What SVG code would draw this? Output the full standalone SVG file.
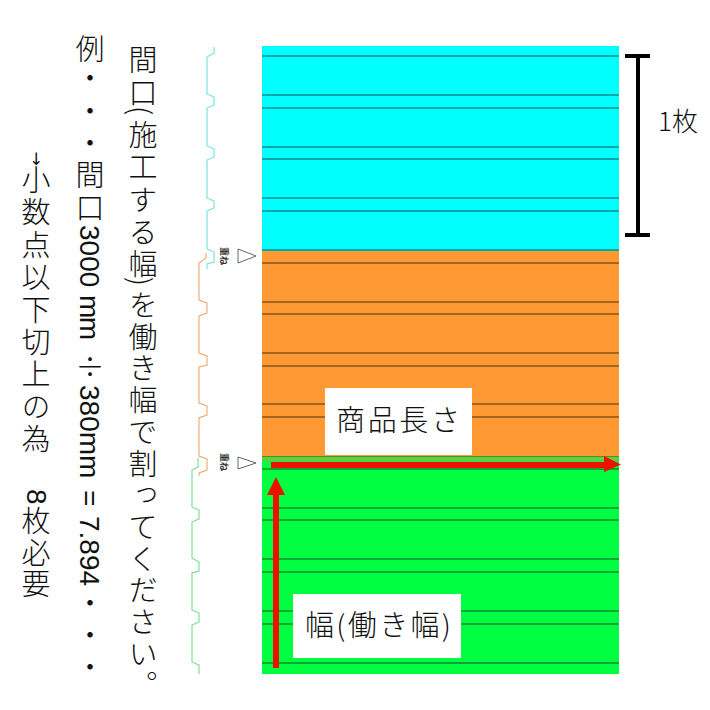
<svg xmlns="http://www.w3.org/2000/svg" width="710" height="710" viewBox="0 0 710 710">
<style>
.t{font-family:"Noto Sans CJK JP","Liberation Sans",sans-serif;fill:#111;font-weight:300}
.v{writing-mode:vertical-rl;font-size:29px}
.l{writing-mode:vertical-rl;font-family:"Liberation Sans",sans-serif;font-size:28px;fill:#111}
.h{font-size:29px}
.s{font-size:9px;font-weight:700;fill:#333}
.ln{stroke-width:1.4;fill:none}
.p{fill:none;stroke-width:1.1}
.tri{fill:#fff;stroke:#666;stroke-width:1}
</style>
<rect width="710" height="710" fill="#fff"/>
<g id="panel-cyan"><rect x="262" y="46" width="357" height="205" fill="#00ffff"/>
<path class="ln" stroke="#0a8a8c" d="M262 56H619M262 95H619M262 108H619M262 147H619M262 159H619M262 198H619M262 211H619M262 250H619"/></g>
<g id="panel-orange"><rect x="262" y="251" width="357" height="206" fill="#ff9933"/>
<path class="ln" stroke="#85551f" d="M262 263H619M262 302H619M262 314H619M262 353H619M262 366H619M262 404H619M262 417H619M262 457H619"/></g>
<g id="panel-green"><rect x="262" y="457" width="357" height="217" fill="#00ff40"/><rect x="262" y="458" width="357" height="3" fill="#70c840"/>
<path class="ln" stroke="#0f8a30" d="M262 469H619M262 508H619M262 520H619M262 559H619M262 572H619M262 611H619M262 624H619M262 663H619"/></g>
<g id="profiles">
<path class="p" stroke="#70e0e0" d="M214 47V53L207 57V94L214 97V105L207 108V146L214 149V157L207 160V198L214 201V208L207 211V249L214 252V262L207 264V269"/>
<path class="p" stroke="#f0a870" d="M206 253V258L199 263V300L207 303V313L199 316V353L207 356V365L199 367V403L207 406V415L199 418V456L207 459V470L199 473V476"/>
<path class="p" stroke="#70e088" d="M198 458V467L192 470V507L199 510V519L192 522V558L199 562V571L192 573V610L199 613V622L192 625V662L199 665V674"/>
</g>
<g id="overlap-1"><polygon class="tri" points="238,249 256,256 238,263"/><text class="t s" transform="translate(221,247) rotate(90)">重ね</text></g>
<g id="overlap-2"><polygon class="tri" points="238,457 256,463 238,469"/><text class="t s" transform="translate(221,453) rotate(90)">重ね</text></g>
<g id="bracket"><path fill="#000" d="M625 54H650V58H640V233H650V237H625V233H636V58H625Z"/><text class="t" x="658" y="131" font-size="26">1枚</text></g>
<g id="arrows">
<polygon fill="#ee1100" points="271,462 604,462 604,456 621,464.500 604,472 604,468 271,468"/>
<polygon fill="#ee1100" points="273,668 273,495 267,495 276,477 285,495 279,495 279,668"/>
</g>
<g id="label-length"><rect x="325" y="388" width="147" height="67" fill="#fff"/><text class="t h" x="336" y="431" textLength="124">商品長さ</text></g>
<g id="label-width"><rect x="293" y="594" width="168" height="64" fill="#fff"/><text class="t h" x="305" y="636" textLength="146">幅(働き幅)</text></g>
<g id="note-1">
<text class="t v" x="143" y="45.500" letter-spacing="4">間口</text>
<text class="t v" x="143" y="106">(</text>
<text class="t v" x="143" y="120.500" letter-spacing="3.250">施工する幅</text>
<text class="t v" x="143" y="277">)</text>
<text class="t v" x="143" y="290.500" letter-spacing="2.700">を働き幅で割ってください。</text>
</g>
<g id="note-2">
<text class="t v" x="90" y="34">例</text>
<text class="t v" x="90" y="63.500" letter-spacing="3.500">・・・</text>
<text class="t v" x="90" y="160.500" letter-spacing="4">間口</text>
<text class="l" x="89" y="225">3000</text>
<text class="l" x="89" y="295" textLength="45">mm</text>
<text class="t v" x="90" y="352">÷</text>
<text class="l" x="89" y="385">380mm</text>
<text class="l" x="89" y="490">=</text>
<text class="l" x="89" y="516">7.894</text>
<text class="t v" x="90" y="588.500" letter-spacing="3.200">・・・</text>
</g>
<g id="note-3">
<text x="36" y="165" font-family="'DejaVu Sans',sans-serif" fill="#111" font-size="17" text-anchor="middle">↓</text>
<text class="t v" x="36" y="165.500" letter-spacing="3.400">小数点以下切上の為</text>
<text class="l" x="36" y="489">8</text>
<text class="t v" x="36" y="506.500" letter-spacing="2.500">枚必要</text>
</g>
</svg>
